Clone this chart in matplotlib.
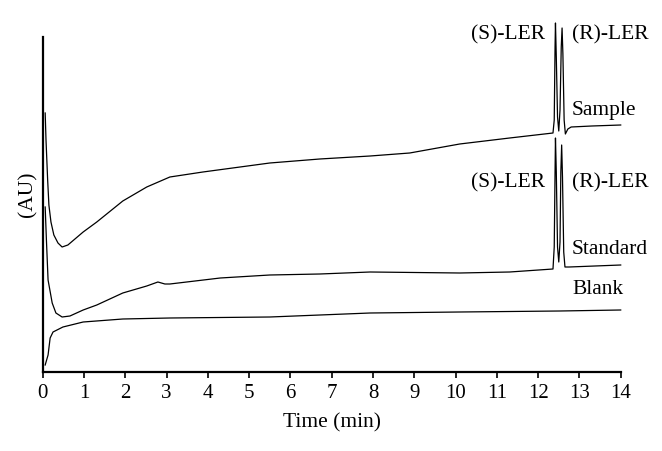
import matplotlib
matplotlib.use("Agg")
import matplotlib.pyplot as plt

plt.rcParams['font.family'] = ['Liberation Serif', 'DejaVu Serif']

# Time (min) and detector response (AU, arbitrary units)
sample_t = [0.06, 0.08, 0.12, 0.15, 0.20, 0.27, 0.37, 0.47, 0.61, 0.98, 1.31, 1.94,
            2.52, 3.08, 3.88, 5.50, 6.71, 7.93, 8.89, 10.10, 11.31, 12.36,
            12.39, 12.41, 12.42, 12.44, 12.47, 12.50, 12.53, 12.56, 12.58, 12.60,
            12.63, 12.66, 12.72, 12.80, 13.30, 14.00]
sample_v = [259, 232, 192, 167, 150, 137, 129, 125, 127, 140, 150, 171,
            185, 195, 200, 209, 213, 216, 219, 228, 234, 239,
            252, 325, 349, 315, 255, 241, 262, 325, 344, 318,
            252, 238, 243, 245, 246, 247]

standard_t = [0.06, 0.09, 0.13, 0.23, 0.32, 0.47, 0.66, 0.98, 1.31, 1.94, 2.52,
              2.79, 2.96, 3.08, 4.30, 5.50, 6.71, 7.93, 10.10, 11.31, 12.36,
              12.39, 12.41, 12.42, 12.44, 12.47, 12.50, 12.53, 12.55, 12.57, 12.59,
              12.62, 12.65, 12.75, 14.00]
standard_v = [165, 132, 92, 69, 59, 55, 56, 62, 67, 79, 86,
              90, 88, 88, 94, 97, 98, 100, 99, 100, 103,
              125, 200, 234, 200, 125, 110, 130, 200, 227, 195,
              120, 105, 105, 107]

blank_t = [0.06, 0.13, 0.18, 0.25, 0.49, 0.98, 1.94, 3.08, 5.50, 7.93, 10.10, 12.52, 14.00]
blank_v = [7, 17, 34, 40, 45, 50, 53, 54, 55, 59, 60, 61, 62]

xticks = list(range(0, 15))

W, H = 662, 451
fig = plt.figure(figsize=(W / 100, H / 100), dpi=100)
left, right, bottom, top = 42.7, 620.7, 372, 17
ax = fig.add_axes([left / W, 1 - bottom / H, (right - left) / W, (bottom - top) / H])

lw = 0.9
ax.plot(sample_t, sample_v, color='black', lw=lw, clip_on=False)
ax.plot(standard_t, standard_v, color='black', lw=lw, clip_on=False)
ax.plot(blank_t, blank_v, color='black', lw=lw, clip_on=False)

ax.set_xlim(0, 14)
ax.set_ylim(0, 355)
ax.set_xticks(xticks)
ax.set_xticklabels([str(x) for x in xticks], fontsize=15)
ax.set_yticks([])
ax.spines['top'].set_visible(False)
ax.spines['right'].set_visible(False)
ax.spines['left'].set_bounds(0, 335)
ax.spines['left'].set_linewidth(1.6)
ax.spines['bottom'].set_linewidth(1.6)
ax.tick_params(axis='x', direction='out', length=4, width=1.2, pad=5)

ax.set_xlabel('Time (min)', fontsize=15.5, labelpad=7)
ax.set_ylabel('(AU)', fontsize=15.5, labelpad=4)

fs = 15.5
ax.text(12.16, 337, '(S)-LER', fontsize=fs, ha='right', va='center')
ax.text(12.82, 337, '(R)-LER', fontsize=fs, ha='left', va='center')
ax.text(12.82, 262, 'Sample', fontsize=fs, ha='left', va='center')
ax.text(12.16, 189, '(S)-LER', fontsize=fs, ha='right', va='center')
ax.text(12.82, 189, '(R)-LER', fontsize=fs, ha='left', va='center')
ax.text(12.82, 122, 'Standard', fontsize=fs, ha='left', va='center')
ax.text(12.82, 83, 'Blank', fontsize=fs, ha='left', va='center')

fig.savefig('out.png', dpi=100)
